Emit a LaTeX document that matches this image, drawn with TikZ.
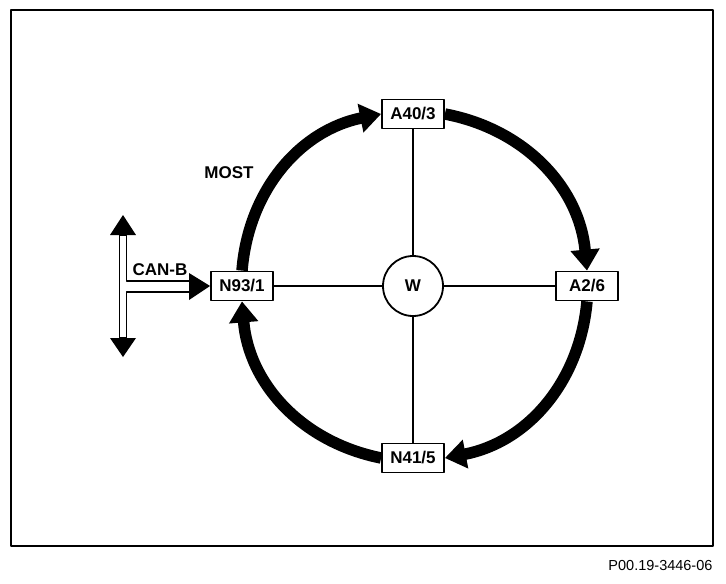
\documentclass[tikz,border=0pt]{standalone}
\usepackage{fontspec}
\setmainfont{Liberation Sans}
\usetikzlibrary{arrows.meta,calc}
\usetikzlibrary{positioning}
\tikzset{ecu/.style={draw,line width=1.8pt,fill=white,minimum width=62pt,minimum height=29pt,inner sep=0pt,font=\bfseries\fontsize{17}{17}\selectfont}}
\tikzset{ring/.style={line width=11.5pt,-{Triangle[length=21pt,width=28pt]}}}
\tikzset{lbl/.style={font=\bfseries\fontsize{17}{17}\selectfont}}

\begin{document}
\begin{tikzpicture}[x=1pt,y=1pt,line join=round]
\useasboundingbox (0,0) rectangle (726,-584);
\draw[line width=1.8pt] (11,-10) rectangle (713,-546);
% --- gateway and the MOST ring
\node[draw,circle,line width=1.8pt,minimum size=60pt,inner sep=0pt,lbl] (w) at (413,-286) {W};
\node[ecu] (a40) at (413,-114) {A40/3};
\node[ecu] (a2) at (587,-286) {A2/6};
\node[ecu] (n41) at (413,-458) {N41/5};
\node[ecu] (n93) at (242,-286) {N93/1};
\foreach \n in {a40,a2,n41,n93} {\draw[line width=1.8pt] (w) -- (\n);}
\draw[ring] (n93.north) to[bend left=37] (a40.west);
\draw[ring] (a40.east) to[bend left=37] (a2.north);
\draw[ring] (a2.south) to[bend left=37] (n41.east);
\draw[ring] (n41.west) to[bend left=37] (n93.south);
\node[lbl] (most) at (229,-173) {MOST};
% --- CAN-B bus
\coordinate (up) at (123,-215);
\coordinate (down) at (123,-357);
\draw[line width=1.5pt,fill=white] (119.5,-235) -- (119.5,-338) -- (126.5,-338) -- (126.5,-292) -- (190,-292) -- (190,-281) -- (126.5,-281) -- (126.5,-235) -- cycle;
\fill (110,-235) -- (up) -- (136,-235) -- cycle;
\fill (110,-338) -- (down) -- (136,-338) -- cycle;
\fill (189,-273) -- (n93.west) -- (189,-300) -- cycle;
\node[lbl] (canb) at (160,-270) {CAN-B};
\node[anchor=east,font=\fontsize{14.5}{14.5}\selectfont] (code) at (716,-566) {P00.19-3446-06};
\end{tikzpicture}
\end{document}
